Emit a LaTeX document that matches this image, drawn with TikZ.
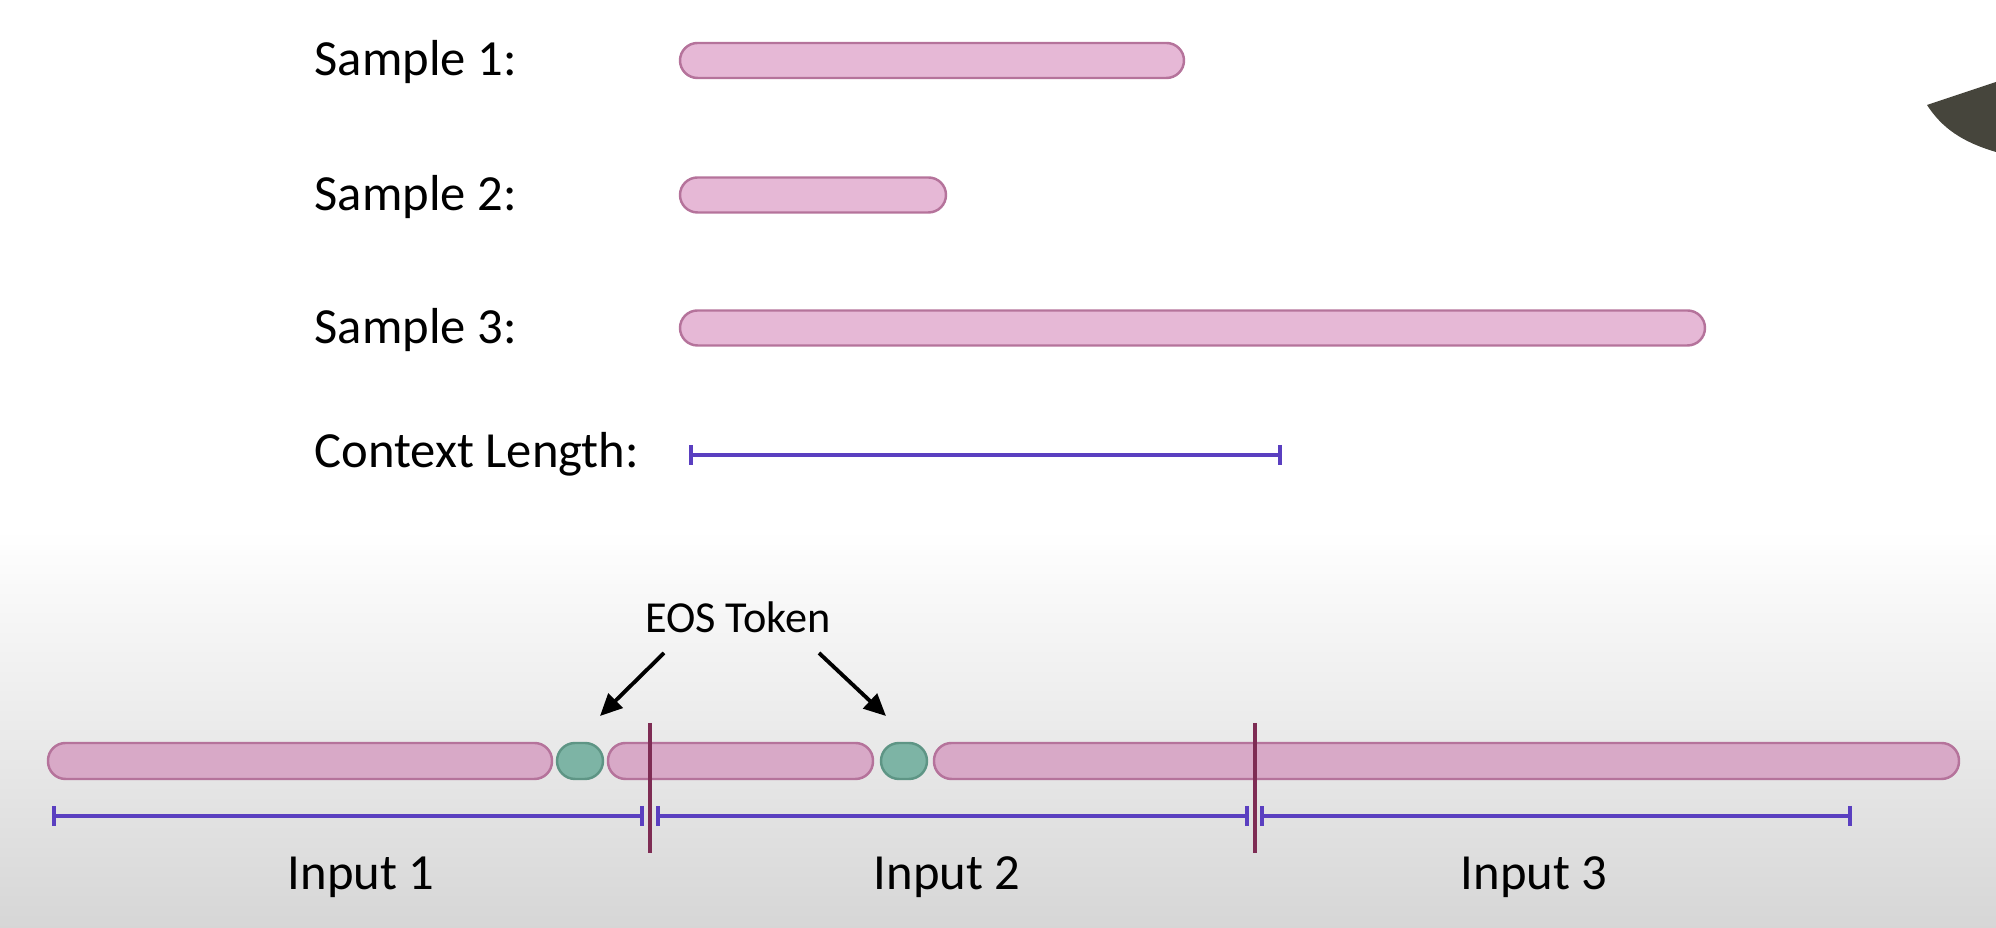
\documentclass[tikz,border=0pt]{standalone}
\usepackage{fontspec}
\setmainfont{Carlito}
\usepackage{tikz}
\usetikzlibrary{arrows.meta, positioning, calc}
\definecolor{barpink}{HTML}{E6B8D6}
\definecolor{barpinkdim}{HTML}{D8A9C7}
\definecolor{baredge}{HTML}{B5739B}
\definecolor{eosgreen}{HTML}{7DB4A5}
\definecolor{eosedge}{HTML}{5E9585}
\definecolor{ctxline}{HTML}{5A3FC0}
\definecolor{cutline}{HTML}{7E2C54}
\definecolor{hair}{HTML}{46453C}

\begin{document}
\begin{tikzpicture}[
    every node/.style={font=\fontsize{14.4}{17}\selectfont, inner sep=0pt},
    bar/.style={rectangle, rounded corners=0.175cm, minimum height=0.35cm, inner sep=0pt, outer sep=0pt, draw=baredge, fill=barpink, line width=0.7pt},
    tok/.style={bar, minimum width=0.46cm, minimum height=0.36cm, rounded corners=0.18cm, draw=eosedge, fill=eosgreen},
    span/.style={draw=ctxline, line width=1.1pt, {Bar[width=2mm]}-{Bar[width=2mm]}},
    cut/.style={draw=cutline, line width=0.9pt},
    pointer/.style={-{Triangle[length=2.2mm,width=2mm]}, line width=1.1pt}
]
\useasboundingbox (0,0) rectangle (19.96,-9.28);
\shade[top color=white, bottom color=black!16] (0,-5.3) rectangle (19.96,-9.28);
\fill[hair] (19.27,-1.05) -- (19.96,-0.82) -- (19.96,-1.52) .. controls (19.62,-1.42) and (19.42,-1.28) .. cycle;
% Top: the three samples and the context length
\foreach \i/\y/\w in {1/0.605/5.04, 2/1.95/2.66, 3/3.28/10.25}{
    \node[anchor=base west] (s\i) at (3.14,-\y-0.155) {Sample \i:};
    \node[bar, anchor=west, minimum width=\w cm] (bar\i) at (6.80,-\y) {};
}
\node[anchor=base west] (ctx) at (3.14,-4.68) {Context Length:};
\coordinate (ctxL) at (6.89,-4.55);
\coordinate (ctxR) at (12.82,-4.55);
\draw[span] (ctxL) -- (ctxR);
% Bottom: packed sequence with EOS tokens
\node[bar, fill=barpinkdim, minimum height=0.36cm, minimum width=5.04cm, anchor=west] (segA) at (0.48,-7.61) {};
\node[tok, right=0.05cm of segA] (tok1) {};
\node[bar, fill=barpinkdim, minimum height=0.36cm, minimum width=2.65cm, right=0.05cm of tok1] (segB) {};
\node[tok, right=0.08cm of segB] (tok2) {};
\node[bar, fill=barpinkdim, minimum height=0.36cm, minimum width=10.25cm, right=0.07cm of tok2] (segC) {};
\node[font=\fontsize{12.6}{14}\selectfont, anchor=base] (eos) at (7.38,-6.33) {EOS Token};
\draw[pointer] ([xshift=-7.4mm,yshift=-1.9mm]eos.south) -- ++(-0.64,-0.63);
\draw[pointer] ([xshift=8.1mm,yshift=-1.9mm]eos.south) -- ++(0.67,-0.63);
\foreach \c/\x in {1/6.50, 2/12.55}{
    \coordinate (cutT\c) at (\x,-7.23);
    \coordinate (cutB\c) at (\x,-8.53);
    \draw[cut] (cutT\c) -- (cutB\c);
}
\foreach \i/\a/\b/\m in {1/0.52/6.44/3.61, 2/6.56/12.49/9.47, 3/12.60/18.52/15.34}{
    \coordinate (inL\i) at (\a,-8.16);
    \coordinate (inR\i) at (\b,-8.16);
    \draw[span] (inL\i) -- (inR\i);
    \node[anchor=base] (in\i) at (\m,-8.90) {Input \i};
}
\end{tikzpicture}
\end{document}
